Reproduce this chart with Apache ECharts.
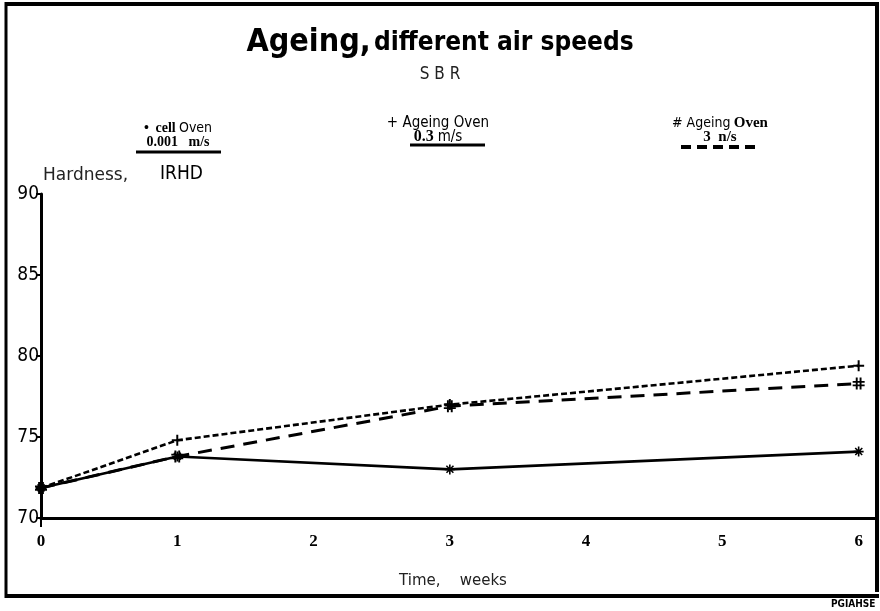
<!DOCTYPE html>
<html>
<head>
<meta charset="utf-8">
<script src="https://cdn.jsdelivr.net/npm/echarts@6/dist/echarts.min.js"></script>
<style>
html,body{margin:0;padding:0;background:#fff;}
#chart{width:880px;height:611px;}
</style>
</head>
<body>
<div id="chart"></div>
<script>
// ---- data ----
const weeks = [0, 1, 3, 6];
const cellOven = [71.85, 73.8, 73.0, 74.1];      // cell Oven 0.001 m/s (solid)
const ageing03 = [71.85, 74.8, 77.0, 79.4];      // Ageing Oven 0.3 m/s (+, short dash)
const ageing3 = [71.85, 73.8, 76.9, 78.3];       // Ageing Oven 3 m/s (#, long dash)
const xTickLabels = [0, 1, 2, 3, 4, 5, 6];
const yTickLabels = [70, 75, 80, 85, 90];

const pairs = arr => weeks.map((w, i) => [w, arr[i]]);

const plusPath = 'path://M4.1,0h1.8v4.1h4.1v1.8h-4.1v4.1h-1.8v-4.1h-4.1v-1.8h4.1z';
const hashPath = 'path://M2.6,0h1.6v10h-1.6z M5.8,0h1.6v10h-1.6z M0,2.8h10v1.5h-10z M0,5.8h10v1.5h-10z';
const starPath = 'path://M4.2,0h1.6v10h-1.6z M0,4.2h10v1.6h-10z M1,1.9l1.1,-1.1l7,7l-1.1,1.1z M8.1,0.8l1.1,1.1l-7,7l-1.1,-1.1z';

const chart = echarts.init(document.getElementById('chart'), null, {renderer: 'canvas'});

const serifB = 'Liberation Serif';
const narrow = 'DejaVu Sans Condensed';

chart.setOption({
  animation: false,
  backgroundColor: '#fff',
  grid: {left: 41, right: 5, top: 194, bottom: 93, containLabel: false},
  xAxis: {
    type: 'value', min: 0, max: 6.12, interval: 1,
    axisLine: {lineStyle: {color: '#000', width: 3}},
    axisTick: {show: false},
    splitLine: {show: false},
    axisLabel: {
      color: '#000', fontFamily: serifB, fontWeight: 'bold', fontSize: 17, margin: 15,
      formatter: v => xTickLabels.indexOf(v) >= 0 ? String(v) : ''
    },
    name: 'Time,    weeks', nameLocation: 'middle', nameGap: 56,
    nameTextStyle: {color: '#222', fontFamily: 'DejaVu Sans', fontSize: 15, padding: [0, 10, 0, 0]}
  },
  yAxis: {
    type: 'value', min: 70, max: 90, interval: 5,
    axisLine: {show: true, lineStyle: {color: '#000', width: 3}},
    axisTick: {show: true, inside: false, length: 5, lineStyle: {color: '#000', width: 2}},
    splitLine: {show: false},
    axisLabel: {
      color: '#000', fontFamily: narrow, fontSize: 19, margin: 2,
      formatter: v => yTickLabels.indexOf(v) >= 0 ? String(v) : ''
    }
  },
  series: [
    {
      name: 'cell Oven 0.001 m/s', type: 'line', data: pairs(cellOven),
      lineStyle: {color: '#000', width: 2.6, type: 'solid'},
      itemStyle: {color: '#000'},
      symbol: starPath, symbolSize: 10, showSymbol: true
    },
    {
      name: 'Ageing Oven 0.3 m/s', type: 'line', data: pairs(ageing03),
      lineStyle: {color: '#000', width: 2.6, type: [6, 3]},
      itemStyle: {color: '#000'},
      symbol: plusPath, symbolSize: 11, showSymbol: true
    },
    {
      name: 'Ageing Oven 3 m/s', type: 'line', data: pairs(ageing3),
      lineStyle: {color: '#000', width: 3, type: [14, 9]},
      itemStyle: {color: '#000'},
      symbol: hashPath, symbolSize: 12, showSymbol: true
    }
  ],
  graphic: [
    // frame
    {type: 'line', shape: {x1: 6, y1: 2, x2: 6, y2: 598}, style: {stroke: '#000', lineWidth: 3}},
    {type: 'line', shape: {x1: 5, y1: 4, x2: 878, y2: 4}, style: {stroke: '#000', lineWidth: 4}},
    {type: 'line', shape: {x1: 877, y1: 2, x2: 877, y2: 592}, style: {stroke: '#000', lineWidth: 4}},
    {type: 'line', shape: {x1: 5, y1: 596, x2: 879, y2: 596}, style: {stroke: '#000', lineWidth: 4}},
    // y axis extension below x axis
    {type: 'line', shape: {x1: 41, y1: 518, x2: 41, y2: 527}, style: {stroke: '#000', lineWidth: 2}},
    // title
    {type: 'text', left: 'center', top: 27, style: {
      text: '{a|Ageing,} {b|different air speeds}',
      rich: {
        a: {fontFamily: narrow, fontWeight: 'bold', fontSize: 32, fill: '#000'},
        b: {fontFamily: narrow, fontWeight: 'bold', fontSize: 26, fill: '#000'}
      }
    }},
    {type: 'text', left: 'center', top: 66, style: {
      text: 'S B R', fontFamily: narrow, fontSize: 17, fill: '#222'
    }},
    // legend-like captions
    {type: 'text', x: 178, y: 121, style: {
      text: '{d|•}  {s|cell} {n|Oven}\n{s|0.001   m/s}', align: 'center',
      rich: {
        d: {fontFamily: serifB, fontSize: 14, fontWeight: 'bold', fill: '#000', lineHeight: 14},
        s: {fontFamily: serifB, fontSize: 14, fontWeight: 'bold', fill: '#000', lineHeight: 14},
        n: {fontFamily: narrow, fontSize: 14, fill: '#000', lineHeight: 14}
      }
    }},
    {type: 'line', shape: {x1: 136, y1: 152, x2: 221, y2: 152}, style: {stroke: '#000', lineWidth: 3}},
    {type: 'text', x: 438, y: 116, style: {
      text: '{n|+ Ageing Oven}\n{s|0.3 }{n|m/s}', align: 'center',
      rich: {
        s: {fontFamily: serifB, fontSize: 16, fontWeight: 'bold', fill: '#000', lineHeight: 14},
        n: {fontFamily: narrow, fontSize: 15, fill: '#000', lineHeight: 14}
      }
    }},
    {type: 'line', shape: {x1: 410, y1: 145, x2: 485, y2: 145}, style: {stroke: '#000', lineWidth: 3}},
    {type: 'text', x: 720, y: 116, style: {
      text: '{n|# Ageing} {s|Oven}\n{s|3  n/s}', align: 'center',
      rich: {
        s: {fontFamily: serifB, fontSize: 15, fontWeight: 'bold', fill: '#000', lineHeight: 14},
        n: {fontFamily: narrow, fontSize: 14, fill: '#000', lineHeight: 14}
      }
    }},
    {type: 'line', shape: {x1: 681, y1: 147, x2: 755, y2: 147}, style: {stroke: '#000', lineWidth: 4, lineDash: [10, 6]}},
    // y axis name
    {type: 'text', x: 43, y: 167, style: {
      text: 'Hardness,', fontFamily: 'DejaVu Sans', fontSize: 17, fill: '#222'
    }},
    {type: 'text', x: 160, y: 165, style: {
      text: 'IRHD', fontFamily: narrow, fontSize: 19, fill: '#000'
    }},
    // corner mark
    {type: 'text', x: 831, y: 599, style: {
      text: 'PGIAHSE', fontFamily: narrow, fontWeight: 'bold', fontSize: 10, fill: '#000'
    }}
  ]
});
</script>
</body>
</html>
